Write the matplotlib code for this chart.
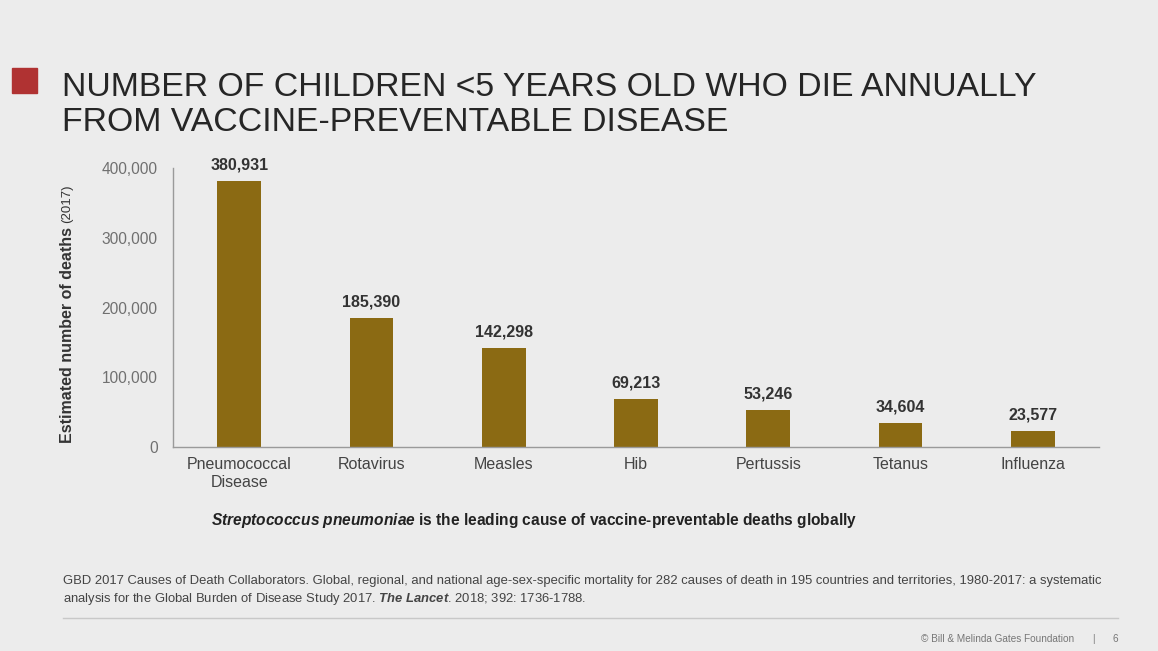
import matplotlib
matplotlib.use("Agg")
import matplotlib.pyplot as plt
from matplotlib.patches import Rectangle
from matplotlib.ticker import FuncFormatter

plt.rcParams['font.family'] = ['Liberation Sans', 'DejaVu Sans']
plt.rcParams['mathtext.fontset'] = 'custom'
plt.rcParams['mathtext.rm'] = 'Liberation Sans'
plt.rcParams['mathtext.it'] = 'Liberation Sans:italic'
plt.rcParams['mathtext.bf'] = 'Liberation Sans:bold'
plt.rcParams['mathtext.bfit'] = 'Liberation Sans:bold:italic'

# data
diseases = ["Pneumococcal\nDisease", "Rotavirus", "Measles", "Hib",
            "Pertussis", "Tetanus", "Influenza"]
deaths = [380931, 185390, 142298, 69213, 53246, 34604, 23577]
yticks = [0, 100000, 200000, 300000, 400000]

bg = "#ececec"
bar_col = "#8b6a13"

fig = plt.figure(figsize=(11.58, 6.51), dpi=100, facecolor=bg)
ax = fig.add_axes([173 / 1158, 1 - 447 / 651, (1099 - 173) / 1158, (447 - 168) / 651])
ax.set_facecolor(bg)

x = list(range(len(diseases)))
ax.bar(x, deaths, width=0.33, color=bar_col, zorder=2)
for xi, v in zip(x, deaths):
    ax.annotate("{:,}".format(v), (xi, v), xytext=(0, 6), textcoords="offset points",
                ha="center", va="bottom", fontsize=11.5, fontweight="bold", color="#333333")

ax.set_xlim(-0.5, len(diseases) - 0.5)
ax.set_ylim(0, 400000)
ax.set_yticks(yticks)
ax.yaxis.set_major_formatter(FuncFormatter(lambda v, p: "{:,}".format(int(v))))
ax.set_xticks(x)
ax.set_xticklabels(diseases, fontsize=11.5, color="#444444", linespacing=1.25)
ax.tick_params(axis="y", length=0, pad=11, labelsize=11.2, labelcolor="#707070")
ax.tick_params(axis="x", length=0, pad=7)
for s in ["top", "right"]:
    ax.spines[s].set_visible(False)
for s in ["left", "bottom"]:
    ax.spines[s].set_color("#9a9a9a")
    ax.spines[s].set_linewidth(1.0)

# y label, with smaller year
fig.text(68 / 1158, 1 - 443 / 651, "Estimated number of deaths", rotation=90,
         ha="center", va="bottom", fontsize=11.5, fontweight="bold", color="#333333")
fig.text(67 / 1158, 1 - 223 / 651, "(2017)", rotation=90,
         ha="center", va="bottom", fontsize=9.5, color="#333333")

# title with red square
fig.patches.append(Rectangle((12 / 1158, 1 - 93 / 651), 25 / 1158, 25 / 651,
                             transform=fig.transFigure, color="#b03232"))
fig.text(62 / 1158, 1 - 96 / 651, "NUMBER OF CHILDREN <5 YEARS OLD WHO DIE ANNUALLY",
         fontsize=24.3, color="#262626", va="baseline")
fig.text(62 / 1158, 1 - 131 / 651, "FROM VACCINE-PREVENTABLE DISEASE",
         fontsize=24.3, color="#262626", va="baseline")

# caption
fig.text(534 / 1158, 1 - 521 / 651,
         r"$\mathbfit{Streptococcus\ pneumoniae}$" + " is the leading cause of vaccine-preventable deaths globally",
         ha="center", va="center", fontsize=11.2, fontweight="bold", color="#222222")

# citation
fig.text(63 / 1158, 1 - 591 / 651,
         "GBD 2017 Causes of Death Collaborators. Global, regional, and national age-sex-specific mortality for 282 causes of death in 195 countries and territories, 1980-2017: a systematic\n"
         "analysis for the Global Burden of Disease Study 2017. " + r"$\mathbfit{The\ Lancet}$" + ". 2018; 392: 1736-1788.",
         ha="left", va="center", fontsize=9.4, color="#444444", linespacing=1.3)

fig.add_artist(plt.Line2D([63 / 1158, 1118 / 1158], [1 - 618 / 651, 1 - 618 / 651],
                          transform=fig.transFigure, color="#c8c8c8", linewidth=1))
fig.text(1074 / 1158, 1 - 639 / 651, "\u00a9 Bill & Melinda Gates Foundation",
         ha="right", va="center", fontsize=7.2, color="#777777")
fig.text(1093 / 1158, 1 - 639 / 651, "|", ha="center", va="center", fontsize=7.2, color="#777777")
fig.text(1115 / 1158, 1 - 639 / 651, "6", ha="center", va="center", fontsize=7.2, color="#777777")

fig.savefig("out.png", dpi=100, facecolor=bg)
